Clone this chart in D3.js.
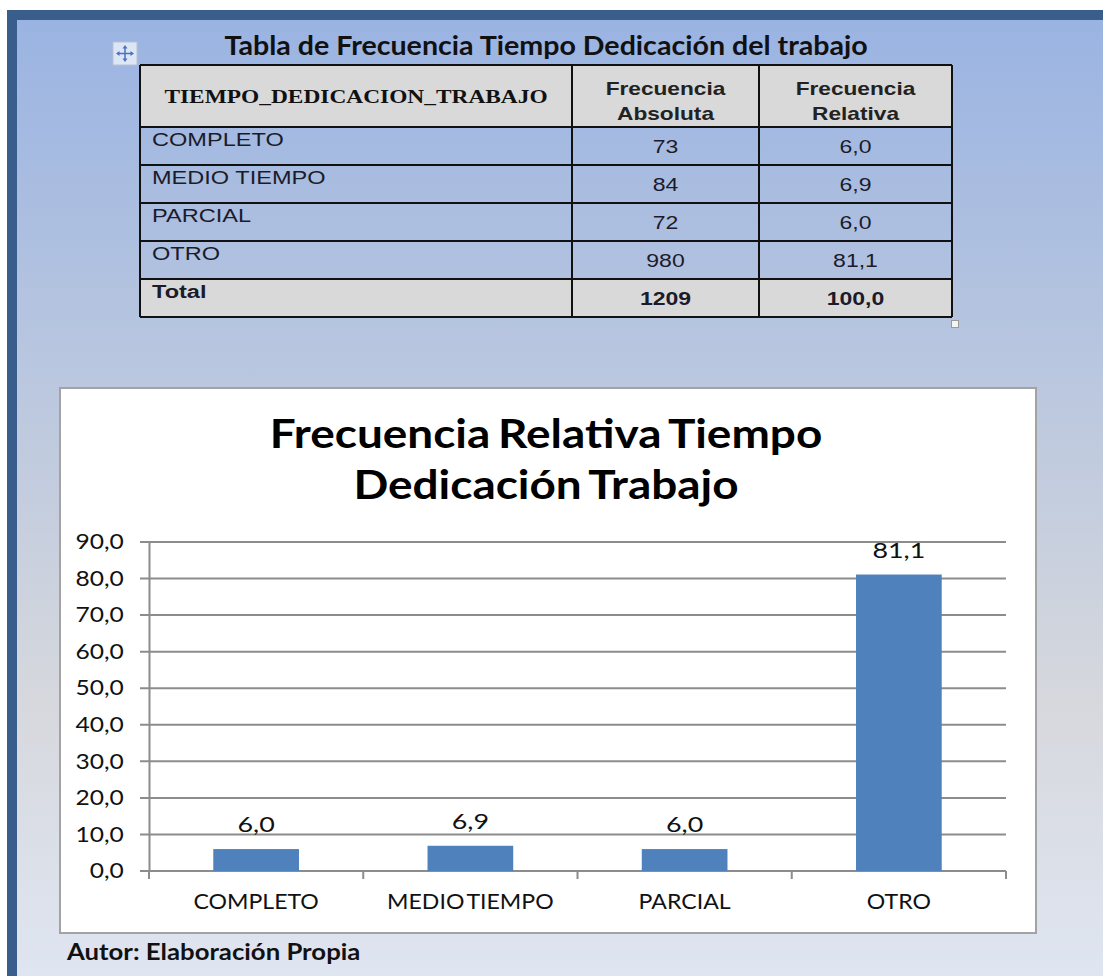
<!DOCTYPE html>
<html>
<head>
<meta charset="utf-8">
<script src="https://cdn.jsdelivr.net/npm/d3@7"></script>
<style>
  body { margin: 0; background: #fff; }
  svg { display: block; }
</style>
</head>
<body>
<svg id="lienzo"></svg>
<script>
//Datos de la tabla y del grafico
let categorias = ['COMPLETO', 'MEDIO TIEMPO', 'PARCIAL', 'OTRO']
let frecAbsoluta = [73, 84, 72, 980]
let frecRelativa = [6.0, 6.9, 6.0, 81.1]
let totalAbsoluta = 1209
let totalRelativa = 100.0
let yTicks = [0, 10, 20, 30, 40, 50, 60, 70, 80, 90]

let tituloTabla = 'Tabla de Frecuencia Tiempo Dedicación del trabajo'
let encabezados = ['TIEMPO_DEDICACION_TRABAJO', ['Frecuencia', 'Absoluta'], ['Frecuencia', 'Relativa']]
let tituloGrafico = ['Frecuencia Relativa Tiempo', 'Dedicación Trabajo']
let autor = 'Autor: Elaboración Propia'

//Tamano del lienzo
let width = 1103
let height = 976

let calibri = 'Lato, "Open Sans", sans-serif'
let arial = '"Liberation Sans", Arial, sans-serif'
let times = '"Liberation Serif", "Times New Roman", serif'

//formato con coma decimal
let es = d3.formatLocale({ decimal: ',', thousands: '.', grouping: [3], currency: ['', ''] })
let fmt = es.format('.1f')

let svg = d3.select('#lienzo')
    .attr('width', width)
    .attr('height', height)

//texto ensanchado (la captura original esta estirada en horizontal)
let texto = (parent, x, y, sx, str) => {
    return parent.append('text')
        .attr('transform', 'translate(' + x + ',' + y + ') scale(' + sx + ',1)')
        .text(str)
}

let drawFondo = () => {
    let defs = svg.append('defs')
    let grad = defs.append('linearGradient')
        .attr('id', 'fondo')
        .attr('x1', 0).attr('y1', 0)
        .attr('x2', 0).attr('y2', 1)
    grad.append('stop').attr('offset', 0).attr('stop-color', '#99b3e2')
    grad.append('stop').attr('offset', 0.38).attr('stop-color', '#bac7df')
    grad.append('stop').attr('offset', 0.72).attr('stop-color', '#d6d8dd')
    grad.append('stop').attr('offset', 1).attr('stop-color', '#dfe5f1')

    svg.append('rect')
        .attr('x', 7).attr('y', 10)
        .attr('width', width - 7).attr('height', height - 10)
        .attr('fill', 'url(#fondo)')

    //marco azul oscuro
    svg.append('rect')
        .attr('x', 7).attr('y', 10)
        .attr('width', width - 7).attr('height', 10)
        .attr('fill', '#3a5e8c')
    svg.append('rect')
        .attr('x', 7).attr('y', 10)
        .attr('width', 10).attr('height', height - 10)
        .attr('fill', '#3a5e8c')
}

let drawTabla = () => {
    let colX = [140, 572, 759, 952]
    let top = 65
    let headH = 62
    let rowH = 38

    let filas = categorias.map((c, i) => [c, String(frecAbsoluta[i]), fmt(frecRelativa[i])])
    filas.push(['Total', String(totalAbsoluta), fmt(totalRelativa)])

    let rowY = d3.scaleLinear()
        .domain([0, 1])
        .range([top + headH, top + headH + rowH])

    let g = svg.append('g')

    //titulo
    texto(g, 546, 55, 1.1, tituloTabla)
        .attr('text-anchor', 'middle')
        .attr('font-family', calibri)
        .attr('font-weight', 'bold')
        .attr('font-size', 26)
        .attr('fill', '#111')

    //icono de mover
    let ic = g.append('g').attr('transform', 'translate(113,42)')
    ic.append('rect').attr('width', 24).attr('height', 23)
        .attr('fill', '#dde6f4').attr('stroke', '#b8c2d2')
    ic.append('path')
        .attr('d', 'M12 5 V18 M5 11.5 H19')
        .attr('stroke', '#4a72c4').attr('stroke-width', 1.5)
    ic.append('path')
        .attr('d', 'M12 3 L9.5 6.5 H14.5 Z M12 20 L9.5 16.5 H14.5 Z M3 11.5 L6.5 9 V14 Z M21 11.5 L17.5 9 V14 Z')
        .attr('fill', '#4a72c4')

    //fondo gris de encabezado y total
    g.append('rect')
        .attr('x', colX[0]).attr('y', top)
        .attr('width', colX[3] - colX[0]).attr('height', headH)
        .attr('fill', '#d9d9d9')
    g.append('rect')
        .attr('x', colX[0]).attr('y', rowY(filas.length - 1))
        .attr('width', colX[3] - colX[0]).attr('height', rowH)
        .attr('fill', '#d9d9d9')

    //encabezados
    texto(g, (colX[0] + colX[1]) / 2, 103, 1.3, encabezados[0])
        .attr('text-anchor', 'middle')
        .attr('font-family', times)
        .attr('font-weight', 'bold')
        .attr('font-size', 18)
        .attr('fill', '#111')

    ;[1, 2].forEach((k) => {
        let cx = (colX[k] + colX[k + 1]) / 2
        encabezados[k].forEach((linea, j) => {
            texto(g, cx, 95 + j * 25, 1.26, linea)
                .attr('text-anchor', 'middle')
                .attr('font-family', arial)
                .attr('font-weight', 'bold')
                .attr('font-size', 18)
                .attr('fill', '#222')
        })
    })

    //filas
    filas.forEach((f, i) => {
        let y0 = rowY(i)
        let negrita = i === filas.length - 1 ? 'bold' : 'normal'
        texto(g, 152, y0 + 19, 1.24, f[0])
            .attr('font-family', arial)
            .attr('font-weight', negrita)
            .attr('font-size', 19)
            .attr('fill', '#1b1b2a')
        ;[1, 2].forEach((k) => {
            texto(g, (colX[k] + colX[k + 1]) / 2, y0 + 26, 1.28, f[k])
                .attr('text-anchor', 'middle')
                .attr('font-family', arial)
                .attr('font-weight', negrita)
                .attr('font-size', 18)
                .attr('fill', '#1b1b2a')
        })
    })

    //bordes
    let bottom = rowY(filas.length)
    let lineas = [top, top + headH]
    filas.forEach((f, i) => lineas.push(rowY(i + 1)))
    g.selectAll('line.h')
        .data(lineas)
        .enter()
        .append('line')
        .attr('x1', colX[0]).attr('x2', colX[3])
        .attr('y1', (d) => d).attr('y2', (d) => d)
        .attr('stroke', '#111').attr('stroke-width', 2)
    g.selectAll('line.v')
        .data(colX)
        .enter()
        .append('line')
        .attr('x1', (d) => d).attr('x2', (d) => d)
        .attr('y1', top).attr('y2', bottom)
        .attr('stroke', '#111').attr('stroke-width', 2)

    //manija de tamano
    g.append('rect')
        .attr('x', 951.5).attr('y', 320.5)
        .attr('width', 7).attr('height', 7)
        .attr('fill', '#f4f4f4').attr('stroke', '#9a9a9a')
}

let drawGrafico = () => {
    //caja blanca
    svg.append('rect')
        .attr('x', 60).attr('y', 388)
        .attr('width', 976).attr('height', 545)
        .attr('fill', '#fff')
        .attr('stroke', '#a3a3a3')
        .attr('stroke-width', 2)

    tituloGrafico.forEach((t, i) => {
        texto(svg, 546, 448 + i * 51, 1.12, t)
            .attr('text-anchor', 'middle')
            .attr('font-family', calibri)
            .attr('font-weight', 'bold')
            .attr('font-size', 41)
            .attr('word-spacing', -3)
            .attr('fill', '#000')
    })

    let xScale = d3.scaleBand()
        .domain(categorias)
        .range([149, 1006])
        .paddingInner(0.6)
        .paddingOuter(0.3)

    let xEdges = d3.scaleLinear()
        .domain([0, categorias.length])
        .range([149, 1006])

    let yScale = d3.scaleLinear()
        .domain([0, 90])
        .range([871, 542])

    //lineas de division
    svg.append('g')
        .selectAll('line')
        .data(yTicks)
        .enter()
        .append('line')
        .attr('x1', 140)
        .attr('x2', 1006)
        .attr('y1', (d) => yScale(d))
        .attr('y2', (d) => yScale(d))
        .attr('stroke', '#8c8c8c')
        .attr('stroke-width', 2)

    //eje y
    let yAxis = d3.axisLeft(yScale)
        .tickValues(yTicks)
        .tickFormat(fmt)
        .tickSize(0)
        .tickPadding(21.5)
    let gy = svg.append('g')
        .attr('transform', 'translate(149,0)')
        .call(yAxis)
    gy.select('.domain').attr('stroke', '#8c8c8c').attr('stroke-width', 2)
    gy.selectAll('text')
        .attr('transform', 'scale(1.17,1)')
        .attr('font-family', calibri)
        .attr('font-size', 21)
        .attr('fill', '#111')

    //eje x
    svg.append('line')
        .attr('x1', 149).attr('x2', 1006)
        .attr('y1', yScale(0)).attr('y2', yScale(0))
        .attr('stroke', '#8c8c8c').attr('stroke-width', 2)
    svg.append('g')
        .selectAll('line')
        .data(d3.range(categorias.length + 1))
        .enter()
        .append('line')
        .attr('x1', (d) => xEdges(d))
        .attr('x2', (d) => xEdges(d))
        .attr('y1', yScale(0))
        .attr('y2', yScale(0) + 8)
        .attr('stroke', '#8c8c8c')
        .attr('stroke-width', 2)

    let gx = svg.append('g')
    categorias.forEach((c) => {
        texto(gx, xScale(c) + xScale.bandwidth() / 2, 909, 1.05, c)
            .attr('text-anchor', 'middle')
            .attr('font-family', calibri)
            .attr('font-size', 22)
            .attr('word-spacing', -3)
            .attr('fill', '#111')
    })

    //barras
    svg.append('g')
        .selectAll('rect')
        .data(frecRelativa)
        .enter()
        .append('rect')
        .attr('x', (d, i) => xScale(categorias[i]))
        .attr('y', (d) => yScale(d))
        .attr('width', xScale.bandwidth())
        .attr('height', (d) => yScale(0) - yScale(d))
        .attr('fill', '#4f81bd')

    //etiquetas de datos
    let gl = svg.append('g')
    frecRelativa.forEach((d, i) => {
        texto(gl, xScale(categorias[i]) + xScale.bandwidth() / 2, yScale(d) - 17, 1.28, fmt(d))
            .attr('text-anchor', 'middle')
            .attr('font-family', calibri)
            .attr('font-size', 21)
            .attr('fill', '#111')
    })

    texto(svg, 67, 960, 1.17, autor)
        .attr('font-family', calibri)
        .attr('font-weight', 'bold')
        .attr('font-size', 22)
        .attr('fill', '#111')
}

drawFondo()
drawTabla()
drawGrafico()
</script>
</body>
</html>
